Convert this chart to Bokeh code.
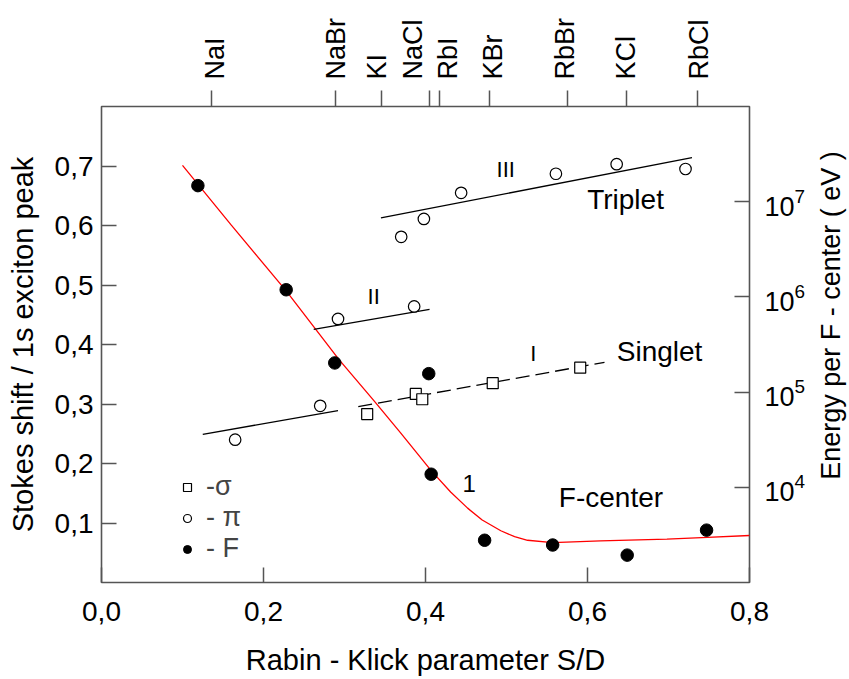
import math
from bokeh.plotting import figure
from bokeh.models import (Range1d, LinearAxis, LogAxis, LogScale, FixedTicker,
                          CustomJSTickFormatter, Legend, LegendItem, Label)
from bokeh.embed import file_html
from bokeh.resources import INLINE

# ---------------- data ----------------
compounds = ["NaI", "NaBr", "KI", "NaCl", "RbI", "KBr", "RbBr", "KCl", "RbCl"]
compound_sd = [0.136, 0.289, 0.346, 0.405, 0.417, 0.479, 0.575, 0.648, 0.736]

f_x = [0.119, 0.228, 0.288, 0.404, 0.407, 0.473, 0.557, 0.649, 0.747]
f_y = [0.667, 0.492, 0.369, 0.351, 0.182, 0.071, 0.063, 0.046, 0.088]

pi_x = [0.165, 0.270, 0.292, 0.386, 0.370, 0.398, 0.444, 0.561, 0.636, 0.721]
pi_y = [0.240, 0.297, 0.443, 0.464, 0.581, 0.611, 0.655, 0.687, 0.703, 0.695]

sigma_x = [0.328, 0.388, 0.396, 0.483, 0.591]
sigma_y = [0.283, 0.317, 0.308, 0.335, 0.361]

fit_x = [0.100, 0.160, 0.228, 0.293, 0.336, 0.369, 0.407, 0.431, 0.452, 0.470,
         0.493, 0.510, 0.526, 0.557, 0.616, 0.698, 0.748, 0.800]
fit_y = [0.701, 0.601, 0.490, 0.375, 0.306, 0.252, 0.188, 0.152, 0.125, 0.105,
         0.087, 0.077, 0.071, 0.067, 0.070, 0.073, 0.076, 0.079]

line3_x = [0.345, 0.729]
line3_y = [0.613, 0.714]
line2_x = [0.262, 0.405]
line2_y = [0.4255, 0.459]
line1_solid_x = [0.125, 0.292]
line1_solid_y = [0.249, 0.289]
line1_dash_x = [0.317, 0.621]
line1_dash_y = [0.2955, 0.370]

x_ticks = [0.0, 0.2, 0.4, 0.6, 0.8]
y_ticks = [0.1, 0.2, 0.3, 0.4, 0.5, 0.6, 0.7]
energy_ticks = [1e4, 1e5, 1e6, 1e7]

notes = ["III", "II", "I", "Triplet", "Singlet", "F-center", "1"]
notes_x = [0.499, 0.336, 0.533, 0.647, 0.689, 0.629, 0.454]
notes_y = [0.694, 0.480, 0.385, 0.644, 0.389, 0.143, 0.167]

right_title = "Energy per F - center ( eV )"

# ---------------- style ----------------
FONT = "Liberation Sans"
FRAME_W, FRAME_H = 648, 476
PX_PER_X = FRAME_W / 0.8
label_shift_px = [3, 0, -5, -17, 9, 4, -2, 0, 1]
note_sizes = ["22px", "22px", "22px", "28px", "28px", "28px", "24px"]
AX = "#555555"

p = figure(frame_width=FRAME_W, frame_height=FRAME_H,
           x_range=Range1d(0, 0.8), y_range=Range1d(0, 0.8),
           output_backend="svg", toolbar_location=None,
           x_axis_location=None, y_axis_location=None,
           min_border_left=101, min_border_top=106, min_border_right=100,
           min_border_bottom=0)
p.grid.visible = False
p.outline_line_color = AX
p.outline_line_width = 1.6
p.background_fill_color = "white"
p.border_fill_color = "white"

comma_fmt = CustomJSTickFormatter(code="return tick.toFixed(1).replace('.', ',');")

def style_axis(ax):
    ax.axis_line_color = None
    ax.minor_tick_line_color = None
    ax.major_tick_line_color = AX
    ax.major_tick_line_width = 1.5
    ax.major_label_text_font = FONT
    ax.axis_label_text_font = FONT
    ax.axis_label_text_font_style = "normal"
    ax.major_label_text_color = "black"
    ax.axis_label_text_color = "black"

# bottom axis
xb = LinearAxis(ticker=FixedTicker(ticks=x_ticks), formatter=comma_fmt,
                axis_label="Rabin - Klick parameter S/D")
style_axis(xb)
xb.major_tick_in = 15
xb.major_tick_out = 0
xb.major_label_standoff = 19
xb.major_label_text_font_size = "28px"
xb.axis_label_text_font_size = "29px"
xb.axis_label_standoff = 20
p.add_layout(xb, "below")

# left axis
yl = LinearAxis(ticker=FixedTicker(ticks=y_ticks), formatter=comma_fmt,
                axis_label="Stokes shift / 1s exciton peak")
style_axis(yl)
yl.major_tick_in = 15
yl.major_tick_out = 0
yl.major_label_standoff = 8
yl.major_label_text_font_size = "28px"
yl.axis_label_text_font_size = "29px"
yl.axis_label_standoff = 13
p.add_layout(yl, "left")

# right log axis (title drawn separately so it reads upwards)
p.extra_y_ranges = {"energy": Range1d(1e3, 1e8)}
p.extra_y_scales = {"energy": LogScale()}
yr = LogAxis(y_range_name="energy", ticker=FixedTicker(ticks=energy_ticks))
style_axis(yr)
yr.major_tick_in = 15
yr.major_tick_out = 0
yr.major_label_standoff = 15
yr.major_label_text_font_size = "27px"
p.add_layout(yr, "right")

# right-hand axis title, reading bottom to top, in the right side panel
p.add_layout(Label(x=0.8, y=0.4, x_offset=81, y_offset=29, text=right_title,
                   angle=math.pi / 2, text_align="center", text_baseline="middle",
                   text_font=FONT, text_font_size="27px", text_color="black"), "right")

# top axis: tick marks at compound positions
xt_ticks = LinearAxis(ticker=FixedTicker(ticks=compound_sd),
                      formatter=CustomJSTickFormatter(code="return '';"))
style_axis(xt_ticks)
xt_ticks.major_tick_out = 16
xt_ticks.major_tick_in = 0
xt_ticks.major_label_standoff = 0
xt_ticks.major_label_text_font_size = "1px"
p.add_layout(xt_ticks, "above")

# top axis: compound names
label_pos = [c + s / PX_PER_X for c, s in zip(compound_sd, label_shift_px)]
overrides = {pos: name for pos, name in zip(label_pos, compounds)}
xt_lab = LinearAxis(ticker=FixedTicker(ticks=label_pos), major_label_overrides=overrides)
style_axis(xt_lab)
xt_lab.major_tick_line_color = None
xt_lab.major_tick_out = 0
xt_lab.major_tick_in = 0
xt_lab.major_label_standoff = 11
xt_lab.major_label_orientation = math.pi / 2
xt_lab.major_label_text_font_size = "27px"
p.add_layout(xt_lab, "above")

# lines
p.line(fit_x, fit_y, line_color="#ff0000", line_width=1.3)
p.line(line3_x, line3_y, line_color="black", line_width=1.3)
p.line(line2_x, line2_y, line_color="black", line_width=1.3)
p.line(line1_solid_x, line1_solid_y, line_color="black", line_width=1.3)
p.line(line1_dash_x, line1_dash_y, line_color="black", line_width=1.3, line_dash="14 6")

# markers
sq = p.scatter(sigma_x, sigma_y, marker="square", size=11, fill_color="white",
               line_color="black", line_width=1.2)
pc = p.scatter(pi_x, pi_y, marker="circle", size=11.5, fill_color="white",
               line_color="black", line_width=1.2)
fc = p.scatter(f_x, f_y, marker="circle", size=12.5, fill_color="black",
               line_color="black", line_width=1)

legend = Legend(items=[LegendItem(label="-σ", renderers=[sq]),
                       LegendItem(label="- π", renderers=[pc]),
                       LegendItem(label="- F", renderers=[fc])],
                location=(76, 18), border_line_color=None, background_fill_alpha=0,
                label_text_font=FONT, label_text_font_size="27px",
                glyph_width=20, glyph_height=28, label_height=28, label_standoff=9,
                spacing=0, padding=0, margin=0)
p.add_layout(legend)

for t, x, y, fs in zip(notes, notes_x, notes_y, note_sizes):
    p.add_layout(Label(x=x, y=y, text=t, text_align="center", text_baseline="middle",
                       text_font=FONT, text_font_size=fs, text_color="black"))

open("out.html", "w").write(file_html(p, INLINE))
